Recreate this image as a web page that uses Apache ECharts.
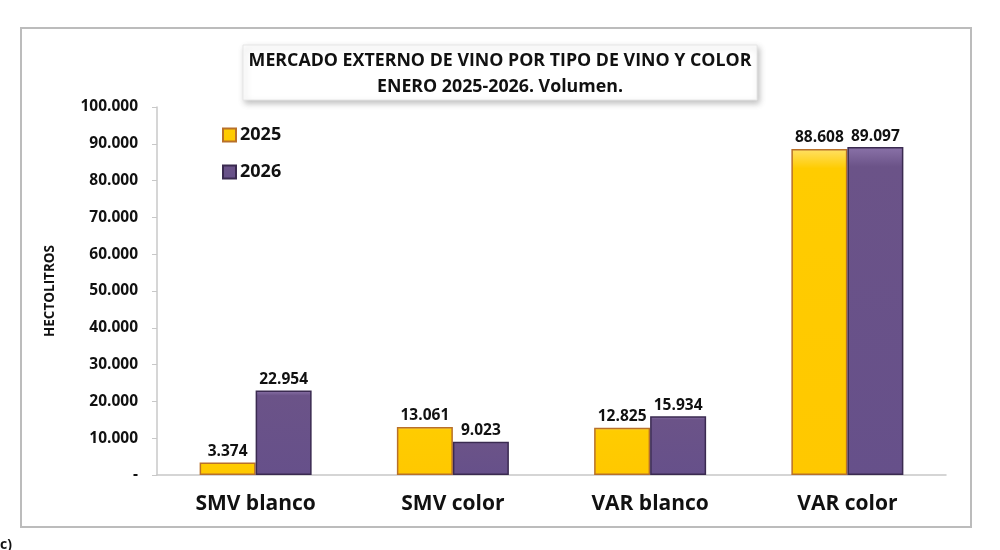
<!DOCTYPE html>
<html>
<head>
<meta charset="utf-8">
<script src="https://cdn.jsdelivr.net/npm/echarts@6/dist/echarts.min.js"></script>
<style>html,body{margin:0;padding:0;background:#fff;}#c{width:1000px;height:550px;}</style>
</head>
<body>
<div id="c"></div>
<script>
var categories = ['SMV blanco', 'SMV color', 'VAR blanco', 'VAR color'];
var seriesNames = ['2025', '2026'];
var values2025 = [3374, 13061, 12825, 88608];
var values2026 = [22954, 9023, 15934, 89097];
var titleLines = ['MERCADO EXTERNO DE VINO POR TIPO DE VINO Y COLOR', 'ENERO 2025-2026. Volumen.'];
var yAxisName = 'HECTOLITROS';

function fmt(v) {
  if (v === 0) return '-';
  return String(Math.round(v)).replace(/\B(?=(\d{3})+(?!\d))/g, '.');
}

var FONT = '"Open Sans", Lato, sans-serif';
var chart = echarts.init(document.getElementById('c'));
chart.setOption({
  animation: false,
  backgroundColor: '#fff',
  textStyle: { fontFamily: FONT },
  grid: { left: 157, right: 54, top: 107, bottom: 75, containLabel: false },
  legend: {
    orient: 'vertical', left: 217, top: 121, itemGap: 19,
    itemWidth: 13, itemHeight: 13,
    textStyle: { fontFamily: FONT, fontWeight: 'bold', fontSize: 18, color: '#111', padding: [0, 0, 0, -1] },
    data: seriesNames.map(function (n) { return { name: n, icon: 'rect' }; })
  },
  xAxis: {
    type: 'category', data: categories,
    axisLine: { lineStyle: { color: '#c8c8c8', width: 1.5 } },
    axisTick: { show: false },
    axisLabel: { fontFamily: FONT, fontWeight: 'bold', fontSize: 21, color: '#111', margin: 19 }
  },
  yAxis: {
    type: 'value', min: 0, max: 100000, interval: 10000,
    name: yAxisName, nameLocation: 'middle', nameGap: 100, nameRotate: 90,
    nameTextStyle: { fontFamily: FONT, fontWeight: 'bold', fontSize: 13.5, color: '#111' },
    axisLine: { show: true, lineStyle: { color: '#c8c8c8', width: 1.5 } },
    axisTick: { show: true, length: 5, lineStyle: { color: '#c8c8c8' } },
    splitLine: { show: false },
    axisLabel: { fontFamily: FONT, fontWeight: 'bold', fontSize: 15.5, color: '#111', margin: 19, formatter: fmt }
  },
  series: [
    {
      name: seriesNames[0], type: 'bar', data: values2025, barWidth: 56, barGap: '0%',
      itemStyle: {
        color: new echarts.graphic.LinearGradient(0, 0, 0, 1, [
          { offset: 0, color: '#FFE066' }, { offset: 0.06, color: '#FFCC00' }, { offset: 1, color: '#FFC800' }
        ]),
        borderColor: '#B8702A', borderWidth: 1.5
      },
      label: { show: true, position: 'top', distance: 3, fontFamily: FONT, fontWeight: 'bold', fontSize: 15.5, color: '#111', formatter: function (p) { return fmt(p.value); } }
    },
    {
      name: seriesNames[1], type: 'bar', data: values2026, barWidth: 56,
      itemStyle: {
        color: new echarts.graphic.LinearGradient(0, 0, 0, 1, [
          { offset: 0, color: '#8A72A8' }, { offset: 0.06, color: '#6B5388' }, { offset: 1, color: '#66508A' }
        ]),
        borderColor: '#3A2A50', borderWidth: 1.5
      },
      label: { show: true, position: 'top', distance: 3, fontFamily: FONT, fontWeight: 'bold', fontSize: 15.5, color: '#111', formatter: function (p) { return fmt(p.value); } }
    }
  ],
  graphic: [
    { type: 'rect', z: -1, silent: true, shape: { x: 21, y: 28, width: 950, height: 499 }, style: { fill: 'none', stroke: '#bcbcbc', lineWidth: 2 } },
    { type: 'rect', silent: true, shape: { x: 243, y: 45, width: 514, height: 55 }, style: { fill: '#fff', stroke: '#e6e6e6', lineWidth: 1, shadowBlur: 6, shadowOffsetX: 2, shadowOffsetY: 3, shadowColor: 'rgba(0,0,0,0.25)' } },
    { type: 'text', silent: true, style: { x: 500, y: 61, text: titleLines[0], align: 'center', verticalAlign: 'middle', fontFamily: FONT, fontWeight: 'bold', fontSize: 17.8, fill: '#111' } },
    { type: 'text', silent: true, style: { x: 500, y: 87, text: titleLines[1], align: 'center', verticalAlign: 'middle', fontFamily: FONT, fontWeight: 'bold', fontSize: 17.8, fill: '#111' } },
    { type: 'text', silent: true, style: { x: 0, y: 538, text: 'c)', fontFamily: FONT, fontWeight: 'bold', fontSize: 14, fill: '#111' } }
  ]
});
</script>
</body>
</html>
